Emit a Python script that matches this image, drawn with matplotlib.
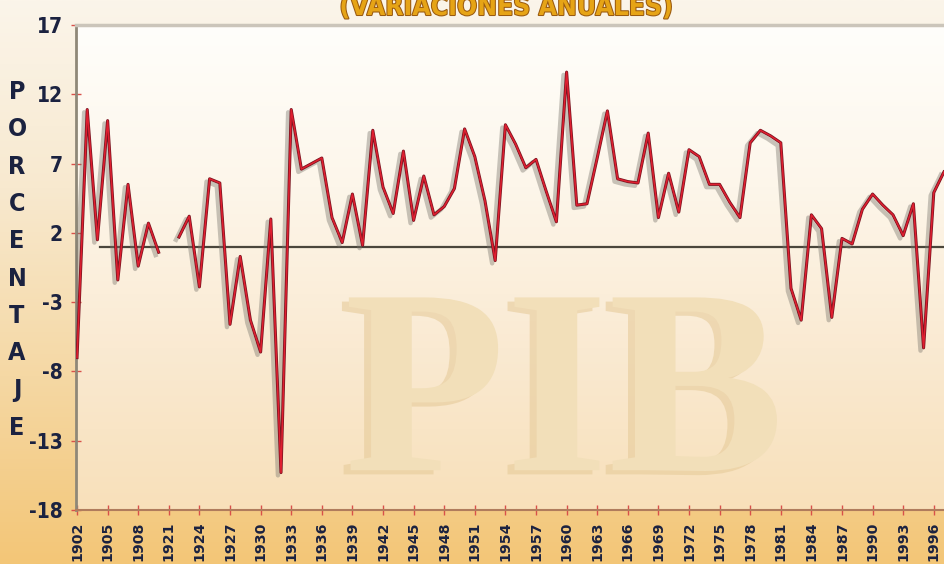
import matplotlib
matplotlib.use('Agg')
import matplotlib.pyplot as plt
import matplotlib.patheffects as pe
import numpy as np
from matplotlib.colors import LinearSegmentedColormap

# PIB: variaciones anuales (%), 1902-1910 y 1922-1997
years_a = np.arange(1902, 1911)
gdp_a = [-7.0, 10.9, 1.5, 10.1, -1.4, 5.5, -0.4, 2.7, 0.6]

years_b = np.arange(1922, 1998)
gdp_b = [1.7, 3.2, -1.9, 5.9, 5.6, -4.6, 0.3, -4.3, -6.6, 3.0,
         -15.3, 10.9, 6.6, 7.0, 7.4, 3.1, 1.3, 4.8, 1.1, 9.4,
         5.3, 3.4, 7.9, 2.9, 6.1, 3.3, 3.9, 5.2, 9.5, 7.5,
         4.3, 0.0, 9.8, 8.4, 6.7, 7.3, 5.0, 2.8, 13.6, 4.0,
         4.1, 7.4, 10.8, 5.9, 5.7, 5.6, 9.2, 3.1, 6.3, 3.5,
         8.0, 7.5, 5.5, 5.5, 4.2, 3.1, 8.5, 9.4, 9.0, 8.5,
         -2.0, -4.3, 3.3, 2.3, -4.1, 1.6, 1.2, 3.7, 4.8, 4.0,
         3.3, 1.8, 4.1, -6.3, 4.9, 6.4]

ref_level = 1.0
tick_years = [1902, 1905, 1908] + list(range(1921, 1997, 3))
y_ticks = [17, 12, 7, 2, -3, -8, -13, -18]
title = '(VARIACIONES ANUALES)'
ylabel = 'PORCENTAJE'
watermark = 'PIB'


def slot(year):
    # the axis skips 1911-1920: 1921 sits three slots after 1908
    year = np.asarray(year)
    return np.where(year <= 1910, year - 1902, year - 1912)


narrow = dict(family=['DejaVu Sans'], stretch='condensed', weight='bold')
navy = '#1b2240'

fig = plt.figure(figsize=(9.45, 5.64), dpi=100)

# page background
bg = fig.add_axes([0, 0, 1, 1])
bg.set_axis_off()
page_cmap = LinearSegmentedColormap.from_list(
    'page', ['#fbf5ea', '#f8e9cf', '#f5d8a4', '#f3c677'])
bg.imshow(np.linspace(0, 1, 256)[:, None], aspect='auto', cmap=page_cmap,
          extent=[0, 1, 0, 1], origin='upper')

ax = fig.add_axes([76 / 945, 1 - 510 / 564, 869 / 945, 485 / 564])
ax.patch.set_visible(False)
xlim = (-0.1, 85.1)
ylim = (-18, 17)
plot_cmap = LinearSegmentedColormap.from_list(
    'plot', ['#fffefb', '#fdf6ea', '#faead2', '#f8e0ba'])
ax.imshow(np.linspace(0, 1, 256)[:, None], aspect='auto', cmap=plot_cmap,
          extent=[xlim[0], xlim[1], ylim[0], ylim[1]], origin='upper', zorder=0)

# watermark
ax.text(0.562, 0.082, watermark, transform=ax.transAxes, fontsize=190,
        family=['Liberation Serif', 'DejaVu Serif'], weight='bold',
        color='#f2dfb9', ha='center', va='baseline', zorder=1,
        path_effects=[pe.SimplePatchShadow(offset=(-5, -3), shadow_rgbFace='#e6cb9a', alpha=0.6),
                      pe.Normal()])

ax.axhline(ref_level, xmin=0.028, color='#4a463c', lw=1.6, zorder=2)

line_fx = [pe.SimpleLineShadow(offset=(-2.2, -2.0), shadow_color='#77736a', alpha=0.4, linewidth=3.2),
           pe.Stroke(linewidth=2.2, foreground='#7a1420'),
           pe.Normal()]
for yrs, vals in [(years_a, gdp_a), (years_b, gdp_b)]:
    ax.plot(slot(yrs), vals, color='#e01f30', lw=1.1, zorder=3,
            path_effects=line_fx)

ax.set_xlim(*xlim)
ax.set_ylim(*ylim)

ax.set_xticks(slot(tick_years))
ax.set_xticklabels([str(y) for y in tick_years], rotation=90, va='top',
                   fontsize=10.2, weight='bold', color=navy, family='DejaVu Sans')
ax.set_yticks(y_ticks)
ax.set_yticklabels([str(v) for v in y_ticks], fontsize=15, color=navy, **narrow)
ax.tick_params(axis='both', color='#d8504a', direction='inout', length=7, width=1)
ax.tick_params(axis='y', pad=6)
ax.tick_params(axis='x', pad=5)

ax.spines['right'].set_visible(False)
ax.spines['left'].set_color('#8f8878')
ax.spines['left'].set_linewidth(2.0)
ax.spines['bottom'].set_color('#b07c5c')
ax.spines['bottom'].set_linewidth(1.5)
ax.spines['top'].set_color('#cbc5ba')
ax.spines['top'].set_linewidth(2.5)

# stacked axis label
for i, ch in enumerate(ylabel):
    fig.text(17 / 945, 1 - (92 + i * 37.3) / 564, ch, ha='center', va='center',
             fontsize=18, color=navy, **narrow)

fig.text(506 / 945, 1 - 15 / 564, title, ha='center', va='baseline',
         fontsize=19, color='#e6a416', **narrow,
         path_effects=[pe.Stroke(linewidth=1.5, foreground='#9a5a10'), pe.Normal()])

fig.savefig('out.png', dpi=100)
